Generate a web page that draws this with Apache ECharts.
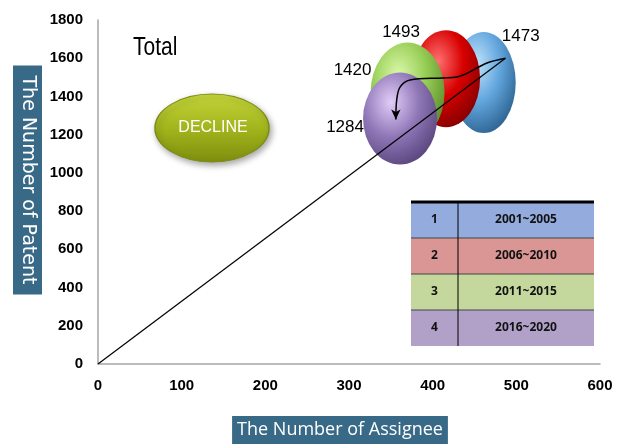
<!DOCTYPE html>
<html><head><meta charset="utf-8">
<script src="https://cdn.jsdelivr.net/npm/echarts@6/dist/echarts.min.js"></script>
<style>html,body{margin:0;padding:0;background:#fff}#c{width:625px;height:445px}</style>
</head><body><div id="c"></div>
<script>
// ---- data ----
const periodNo = ['1', '2', '3', '4'];
const periods = ['2001~2005', '2006~2010', '2011~2015', '2016~2020'];
const assignees = [461, 416, 370, 361];
const patents = [1473, 1493, 1420, 1284];
const trendX = [0, 487];
const trendY = [0, 1600];
const arrowX = [487, 465, 429, 412, 373, 361, 357, 356];
const arrowY = [1600, 1575, 1502, 1497, 1486, 1449, 1381, 1280];
const xTicks = [0, 100, 200, 300, 400, 500, 600];
const yTicks = [0, 200, 400, 600, 800, 1000, 1200, 1400, 1600, 1800];

// ---- styles ----
const bubbleSizes = [[64, 101], [68, 97], [74, 100], [74, 92]];
const bubbleColors = [
  ['#c2e4fa', '#62a6de', '#2a5f8c'],
  ['#ff7070', '#d80000', '#800000'],
  ['#dcf8aa', '#96cd54', '#58862a'],
  ['#e2cdf8', '#9078b8', '#56427a']
];
const labelOffsets = [[37, -46], [-45, -46], [-55, -22], [-55, 9]];
const rowColors = ['#93abdd', '#d99694', '#c4d79c', '#b1a1c8'];
const ellipsePath = 'path://M0 50A50 50 0 1 1 100 50A50 50 0 1 1 0 50Z';
const sans = "'Liberation Sans', Arial, sans-serif";

const scatterSeries = patents.map((p, i) => ({
  type: 'scatter',
  name: periods[i],
  symbol: ellipsePath,
  symbolSize: bubbleSizes[i],
  z: 2 + i,
  itemStyle: {
    opacity: 1,
    color: {
      type: 'radial', x: 0.38, y: 0.32, r: 0.75,
      colorStops: [
        { offset: 0, color: bubbleColors[i][0] },
        { offset: 0.5, color: bubbleColors[i][1] },
        { offset: 1, color: bubbleColors[i][2] }
      ]
    }
  },
  label: {
    show: true, position: 'inside', offset: labelOffsets[i],
    formatter: String(p), color: '#000', fontSize: 17, fontFamily: sans
  },
  data: [[assignees[i], p]]
}));

const tableTop = 202, rowH = 36, tLeft = 411, tRight = 594, tDiv = 458;
const tableEls = [];
periods.forEach((per, i) => {
  tableEls.push({ type: 'rect', shape: { x: tLeft, y: tableTop + i * rowH, width: tRight - tLeft, height: rowH },
    style: { fill: rowColors[i] }, z: 10 });
  tableEls.push({ type: 'text', x: (tLeft + tDiv) / 2, y: tableTop + i * rowH + rowH / 2, z: 12,
    style: { text: periodNo[i], fill: '#111', font: "bold 12px 'Noto Sans'", align: 'center', verticalAlign: 'middle', textAlign: 'center', textVerticalAlign: 'middle' } });
  tableEls.push({ type: 'text', x: (tDiv + tRight) / 2, y: tableTop + i * rowH + rowH / 2, z: 12,
    style: { text: per, fill: '#111', font: "bold 12px 'Noto Sans'", align: 'center', verticalAlign: 'middle', textAlign: 'center', textVerticalAlign: 'middle' } });
  if (i > 0) tableEls.push({ type: 'line', shape: { x1: tLeft, y1: tableTop + i * rowH, x2: tRight, y2: tableTop + i * rowH },
    style: { stroke: '#444', lineWidth: 1 }, z: 11 });
});
tableEls.push({ type: 'line', shape: { x1: tLeft, y1: tableTop, x2: tRight, y2: tableTop }, style: { stroke: '#000', lineWidth: 3 }, z: 11 });
tableEls.push({ type: 'line', shape: { x1: tDiv, y1: tableTop, x2: tDiv, y2: tableTop + 4 * rowH }, style: { stroke: '#000', lineWidth: 1 }, z: 11 });

const chart = echarts.init(document.getElementById('c'));
chart.setOption({
  animation: false,
  backgroundColor: '#fff',
  grid: { left: 98, right: 25, top: 20, bottom: 81 },
  xAxis: {
    type: 'value', min: xTicks[0], max: xTicks[xTicks.length - 1], interval: 100,
    axisLine: { lineStyle: { color: '#a6a6a6', width: 1.5 } },
    axisTick: { show: false }, splitLine: { show: false },
    axisLabel: { margin: 14, color: '#000', fontWeight: 'bold', fontSize: 15, fontFamily: sans, formatter: v => String(v) }
  },
  yAxis: {
    type: 'value', min: yTicks[0], max: yTicks[yTicks.length - 1], interval: 200,
    axisLine: { show: true, lineStyle: { color: '#a6a6a6', width: 1.5 } },
    axisTick: { show: false }, splitLine: { show: false },
    axisLabel: { margin: 15, color: '#000', fontWeight: 'bold', fontSize: 15, fontFamily: sans, formatter: v => String(v) }
  },
  series: [
    ...scatterSeries,
    {
      type: 'line', z: 8, symbol: 'none', silent: true,
      lineStyle: { color: '#000', width: 1.2 },
      data: trendX.map((x, i) => [x, trendY[i]])
    },
    {
      type: 'line', z: 9, smooth: 0.35, symbol: 'none', showSymbol: true, silent: true,
      lineStyle: { color: '#000', width: 1.5 },
      itemStyle: { color: '#000' },
      data: arrowX.map((x, i) => i === arrowX.length - 1
        ? { value: [x, arrowY[i]], symbol: 'arrow', symbolSize: [7, 10], symbolRotate: 180 }
        : { value: [x, arrowY[i]], symbol: 'none' })
    }
  ],
  graphic: [
    { type: 'text', x: 133, y: 48, z: 10, scaleY: 1.2,
      style: { text: 'Total', fill: '#000', font: "21px " + sans, align: 'left', verticalAlign: 'middle', textAlign: 'left', textVerticalAlign: 'middle' } },
    { type: 'circle', x: 212, y: 128, scaleY: 34 / 57, z: 10,
      shape: { cx: 0, cy: 0, r: 57 },
      style: {
        fill: { type: 'linear', x: 0, y: 0, x2: 0, y2: 1,
          colorStops: [{ offset: 0, color: '#c4d53c' }, { offset: 0.5, color: '#a3b51c' }, { offset: 1, color: '#7f8e0e' }] },
        stroke: '#7d8b12', lineWidth: 1.5,
        shadowBlur: 6, shadowColor: 'rgba(0,0,0,0.35)', shadowOffsetX: 2, shadowOffsetY: 3
      } },
    { type: 'text', x: 213, y: 128, z: 11,
      style: { text: 'DECLINE', fill: '#fff', font: "16px " + sans, align: 'center', verticalAlign: 'middle', textAlign: 'center', textVerticalAlign: 'middle' } },
    { type: 'text', x: 27.5, y: 180, rotation: -Math.PI / 2, z: 10,
      style: { text: 'The Number of Patent', fill: '#fff', font: "19px 'DejaVu Sans'", align: 'center', verticalAlign: 'middle', textAlign: 'center', textVerticalAlign: 'middle',
        backgroundColor: '#386a88', padding: [5, 10, 5, 10] } },
    { type: 'text', x: 340, y: 430, z: 10,
      style: { text: 'The Number of Assignee', fill: '#fff', font: "18px 'Open Sans'", align: 'center', verticalAlign: 'middle', textAlign: 'center', textVerticalAlign: 'middle',
        backgroundColor: '#386a88', padding: [5, 5, 5, 5] } },
    ...tableEls
  ]
});
</script>
</body></html>
